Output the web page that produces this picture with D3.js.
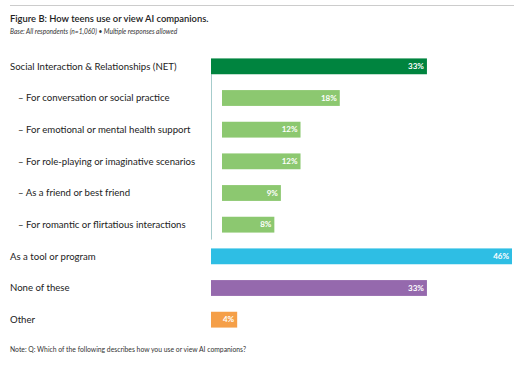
<!DOCTYPE html>
<html><head><meta charset="utf-8">
<script src="https://cdn.jsdelivr.net/npm/d3@7"></script>
<style>body{margin:0;background:#fff}svg{display:block}text{font-family:Lato,"Open Sans",sans-serif}</style>
</head><body>
<script>
const categories = ["Social Interaction & Relationships (NET)","– For conversation or social practice","– For emotional or mental health support","– For role-playing or imaginative scenarios","– As a friend or best friend","– For romantic or flirtatious interactions","As a tool or program","None of these","Other"];
const values = [33,18,12,12,9,8,46,33,4];
const isSub = [false,true,true,true,true,true,false,false,false];
const colors = ["#00843f","#8cc870","#8cc870","#8cc870","#8cc870","#8cc870","#2ebee4","#9569ad","#f59f48"];
const valueLabels = values.map(v=>v+"%");

const W=525,H=377;
const svg=d3.select("body").append("svg").attr("width",W).attr("height",H);
svg.append("line").attr("x1",10).attr("x2",514).attr("y1",5.5).attr("y2",5.5).attr("stroke","#cccccc").attr("stroke-width",1);
svg.append("text").attr("x",10).attr("y",22).attr("font-size",9.4).attr("font-weight",600).attr("fill","#222").text("Figure B: How teens use or view AI companions.");
svg.append("text").attr("x",10).attr("y",34).attr("font-size",6.6).attr("font-style","italic").attr("fill","#333").text("Base: All respondents (n=1,060) • Multiple responses allowed");
svg.append("text").attr("x",10).attr("y",352).attr("font-size",6.8).attr("fill","#333").text("Note: Q: Which of the following describes how you use or view AI companions?");

const x0=211, subOff=11;
const x=d3.scaleLinear().domain([0,46]).range([0,301]);
const y=d3.scaleBand().domain(d3.range(categories.length)).range([50.5,335.5]).paddingInner(0.5).paddingOuter(0.25);

const xs=i=>x0+(isSub[i]?subOff:0);
svg.append("line").attr("x1",x0+0.5).attr("x2",x0+0.5).attr("y1",y(0)+y.bandwidth()).attr("y2",y(5)+y.bandwidth()+7).attr("stroke","#a6cccc").attr("stroke-width",1);

const g=svg.append("g");
g.selectAll("rect").data(values).join("rect")
 .attr("x",(d,i)=>xs(i)).attr("y",(d,i)=>y(i)).attr("width",d=>x(d)).attr("height",y.bandwidth()).attr("fill",(d,i)=>colors[i]);
g.selectAll("text.v").data(values).join("text").attr("class","v")
 .attr("x",(d,i)=>xs(i)+x(d)-3).attr("y",(d,i)=>y(i)+y.bandwidth()/2).attr("dy","0.35em").attr("text-anchor","end")
 .attr("font-size",8).attr("font-weight",700).attr("fill","#fff").text((d,i)=>valueLabels[i]);
g.selectAll("text.c").data(categories).join("text").attr("class","c")
 .attr("x",(d,i)=>isSub[i]?18:10).attr("y",(d,i)=>y(i)+y.bandwidth()/2).attr("dy","0.35em")
 .attr("font-size",9.6).attr("fill","#222").text(d=>d);
</script>
</body></html>
